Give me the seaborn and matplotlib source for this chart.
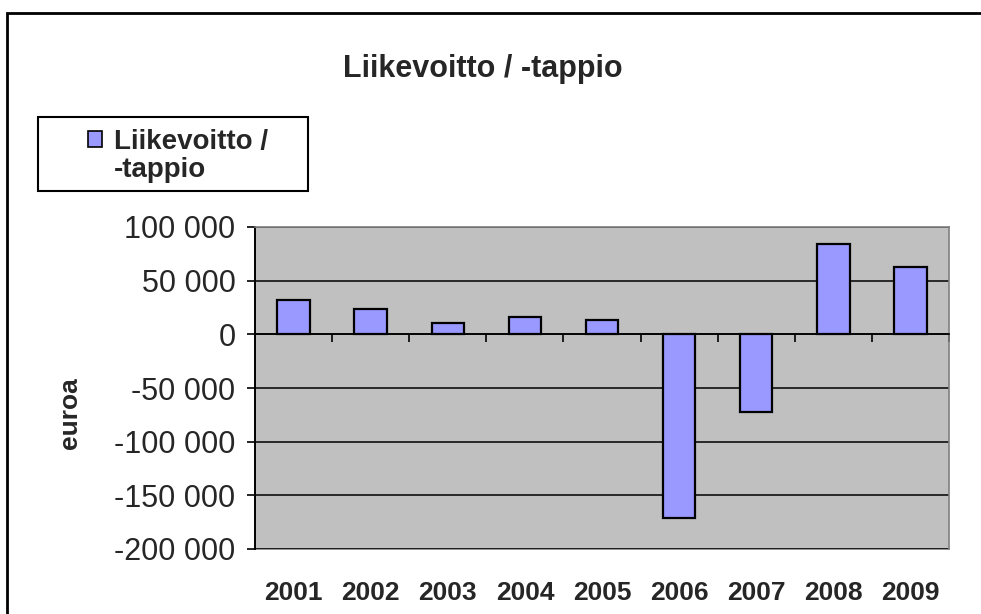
import matplotlib
matplotlib.use("Agg")
import matplotlib.pyplot as plt
from matplotlib.patches import Rectangle, Patch
from matplotlib.ticker import FuncFormatter, FixedLocator
import seaborn as sns
import pandas as pd

# ---- data ----
years = ["2001", "2002", "2003", "2004", "2005", "2006", "2007", "2008", "2009"]
values = [32400, 23800, 10200, 16000, 13600, -171300, -72500, 84000, 63000]
series_line1 = "Liikevoitto /"
series_line2 = "-tappio"
title = "Liikevoitto / -tappio"
ylabel = "euroa"
yticks = [100000, 50000, 0, -50000, -100000, -150000, -200000]

sns.set_style("white")
plt.rcParams["font.family"] = ["Liberation Sans", "DejaVu Sans"]

df = pd.DataFrame({"year": years, "value": values})

W, H = 981, 614
fig = plt.figure(figsize=(W / 100, H / 100), dpi=100)
fig.patch.set_facecolor("white")

# plot area in pixel coords
L, R, T, B = 255, 949, 227, 549
ax = fig.add_axes([L / W, 1 - B / H, (R - L) / W, (B - T) / H])
ax.set_facecolor("#c0c0c0")

sns.barplot(data=df, x="year", y="value", color="#9999ff", edgecolor="black",
            linewidth=1.6, width=0.42, saturation=1, ax=ax, zorder=3)

ax.set_ylim(-200000, 100000)
ax.set_xlim(-0.5, len(years) - 0.5)
ax.set_yticks(yticks)
ax.yaxis.set_major_formatter(FuncFormatter(lambda v, p: f"{v:,.0f}".replace(",", " ")))
ax.tick_params(axis="y", direction="out", length=6, width=1.2, color="black",
               labelsize=22, pad=8, left=True)
ax.yaxis.grid(True, color="black", linewidth=1.1, zorder=1)
ax.set_axisbelow(True)

# category axis crossing at zero with boundary ticks
ax.spines["bottom"].set_position(("data", 0))
ax.spines["bottom"].set_color("black")
ax.spines["bottom"].set_linewidth(1.2)
ax.spines["bottom"].set_zorder(4)
ax.set_xticks(range(len(years)))
ax.tick_params(axis="x", which="major", length=0, labelbottom=False)
ax.xaxis.set_minor_locator(FixedLocator([i + 0.5 for i in range(len(years))]))
ax.tick_params(axis="x", which="minor", direction="out", length=6, width=1.2,
               color="black", bottom=True)
ax.set_xlabel("")

ax.spines["left"].set_color("black")
ax.spines["left"].set_linewidth(1.4)
for s in ["top", "right"]:
    ax.spines[s].set_color("#808080")
    ax.spines[s].set_linewidth(1.2)

# labels at bottom of plot area
sec = ax.secondary_xaxis("bottom")
sec.set_xticks(range(len(years)), labels=years)
sec.tick_params(length=0, pad=23, labelsize=19)
for lab in sec.get_xticklabels():
    lab.set_fontweight("bold")
sec.spines["bottom"].set_color("#808080")
sec.spines["bottom"].set_linewidth(1.2)

ax.set_ylabel(ylabel, fontsize=19, fontweight="bold")
ax.yaxis.set_label_coords((82 - L) / (R - L), (B - 413) / (B - T))

fig.text(0.492, 1 - 69 / H, title, fontsize=22, fontweight="bold",
         ha="center", va="center")

# legend
handle = Patch(facecolor="#9999ff", edgecolor="black", linewidth=1.2)
leg = fig.legend([handle], [series_line1], loc="upper left",
                 bbox_to_anchor=(88 / W, 1 - 129 / H), frameon=False,
                 prop={"size": 20, "weight": "bold"}, borderpad=0,
                 borderaxespad=0, handlelength=0.5, handleheight=0.5,
                 handletextpad=0.45)
fig.text(114 / W, 1 - 177 / H, series_line2, fontsize=20, fontweight="bold",
         ha="left", va="baseline")
fig.add_artist(Rectangle((38 / W, 1 - 191 / H), 270 / W, 74 / H,
                         transform=fig.transFigure, fill=False,
                         edgecolor="black", linewidth=1.5))

# outer chart border
fig.add_artist(Rectangle((7 / W, -0.05), 1.2, 1.05 - 13 / H,
                         transform=fig.transFigure, fill=False,
                         edgecolor="black", linewidth=2))

fig.savefig("out.png", dpi=100)
